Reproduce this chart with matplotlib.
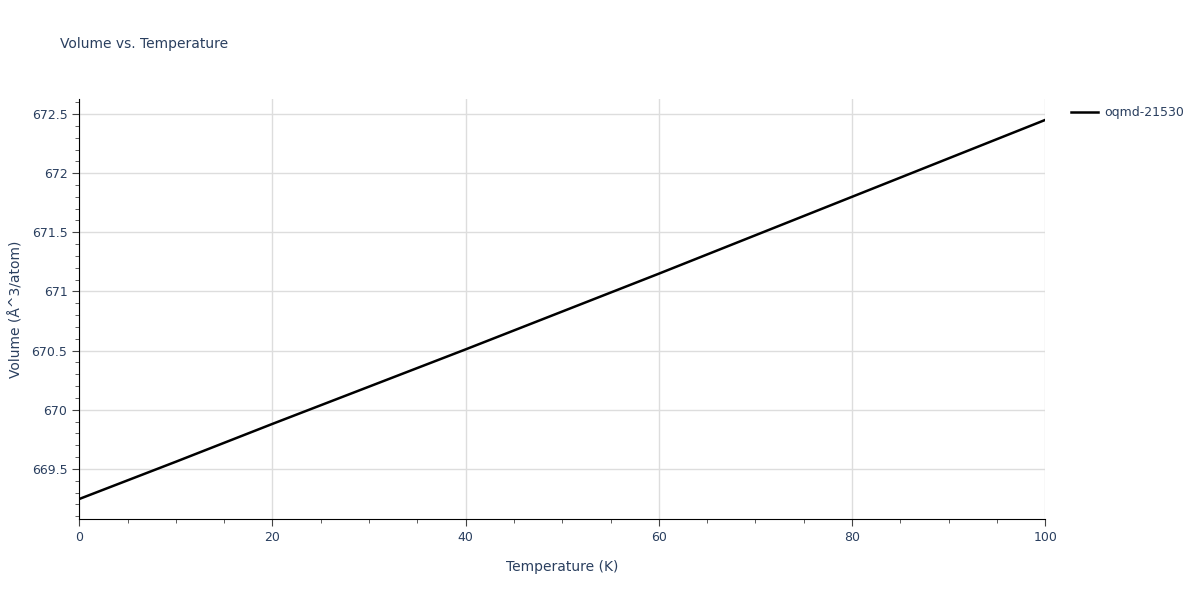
import matplotlib.pyplot as plt
from matplotlib.ticker import MultipleLocator, FuncFormatter

temperature = [0, 10, 20, 30, 40, 50, 60, 70, 80, 90, 100]
volume = [669.245, 669.56, 669.88, 670.195, 670.51, 670.83, 671.15, 671.475, 671.80, 672.125, 672.45]
series_name = "oqmd-21530"

fig = plt.figure(figsize=(12, 6), dpi=100)
ax = fig.add_axes([0.066, 0.135, 0.805, 0.7])
ax.plot(temperature, volume, color="black", lw=1.8, label=series_name)

ax.set_xlim(0, 100)
ax.set_ylim(669.076, 672.627)
ax.xaxis.set_major_locator(MultipleLocator(20))
ax.xaxis.set_minor_locator(MultipleLocator(5))
ax.yaxis.set_major_locator(MultipleLocator(0.5))
ax.yaxis.set_minor_locator(MultipleLocator(0.1))
ax.yaxis.set_major_formatter(FuncFormatter(lambda v, p: f"{v:g}"))
ax.grid(True, which="major", color="#dddddd", lw=1)
ax.set_axisbelow(True)

txt = "#2a3f5f"
for s in ["top", "right"]:
    ax.spines[s].set_visible(False)
for s in ["left", "bottom"]:
    ax.spines[s].set_color("black")
ax.tick_params(which="major", direction="out", length=5, colors="#444444", labelcolor=txt, labelsize=9)
ax.tick_params(which="minor", direction="out", length=3, colors="#444444")

ax.set_xlabel("Temperature (K)", color=txt, fontsize=10, labelpad=12)
ax.set_ylabel("Volume (Å^3/atom)", color=txt, fontsize=10, labelpad=6)
fig.text(0.05, 0.92, "Volume vs. Temperature", color=txt, fontsize=10)

ax.legend(loc="upper left", bbox_to_anchor=(1.015, 1.01), frameon=False, fontsize=9,
          labelcolor=txt, handlelength=2.2, handletextpad=0.5)

fig.savefig("out.png")
